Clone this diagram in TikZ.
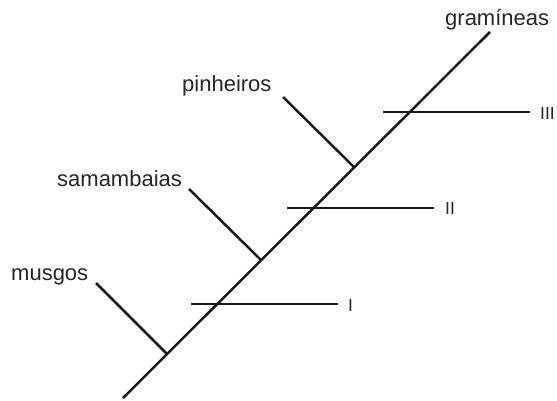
\documentclass[tikz,border=0pt]{standalone}
\usepackage{fontspec}
\setmainfont{Liberation Sans}
\begin{document}
\begin{tikzpicture}[x=1pt,y=-1pt,
  branch/.style={line width=2.5pt,black!90},
  taxon/.style={anchor=base west,inner sep=0pt,text=black!85,font=\fontsize{22}{26}\selectfont},
  numeral/.style={anchor=base west,inner sep=0pt,text=black!85,font=\fontsize{17.5}{20}\selectfont}]
\useasboundingbox (0,0) rectangle (557,400);

% main stem of the cladogram
\coordinate (root) at (123,398);
\coordinate (tipG) at (490,32);
\coordinate (jM) at (167,354);
\coordinate (jS) at (261,260);
\coordinate (jP) at (354,167);

% branch tips
\coordinate (tipM) at (96,283);
\coordinate (tipS) at (189,189);
\coordinate (tipP) at (283,97);

% evolutionary novelty bars
\coordinate (aI) at (191,304);  \coordinate (bI) at (338,304);
\coordinate (aII) at (287,208); \coordinate (bII) at (434,208);
\coordinate (aIII) at (383,112);\coordinate (bIII) at (530,112);

\draw[branch] (root) -- (tipG);
\draw[branch] (tipM) -- (jM);
\draw[branch] (tipS) -- (jS);
\draw[branch] (tipP) -- (jP);
\draw[branch] (aI) -- (bI);
\draw[branch] (aII) -- (bII);
\draw[branch] (aIII) -- (bIII);

% taxon names
\node[taxon] (musgos) at (11,280) {musgos};
\node[taxon] (samambaias) at (57,186) {samambaias};
\node[taxon] (pinheiros) at (182,91) {pinheiros};
\node[taxon] (gramineas) at (445,25) {gramíneas};

% numerals
\node[numeral] (nI) at (348,311) {I};
\node[numeral] (nII) at (445,214) {II};
\node[numeral] (nIII) at (540,119) {III};
\end{tikzpicture}
\end{document}
